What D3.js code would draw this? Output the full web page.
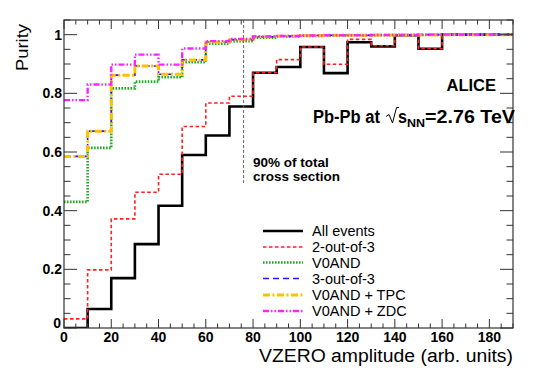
<!DOCTYPE html>
<html><head><meta charset="utf-8">
<script src="https://cdn.jsdelivr.net/npm/d3@7"></script>
<style>body{margin:0;background:#fff}svg{display:block;font-family:"Liberation Sans",Arial,sans-serif}</style>
</head><body>
<svg id="c" width="540" height="390"></svg>
<script>
const binEdges = d3.range(0, 200, 10); // 0..190
const allEvents = [0, 0.065, 0.17, 0.286, 0.417, 0.59, 0.656, 0.755, 0.87, 0.89, 0.958, 0.869, 0.974, 0.96, 0.998, 0.952, 1, 1, 1];
const twoOf3   = [0.031, 0.198, 0.372, 0.463, 0.524, 0.687, 0.767, 0.79, 0.87, 0.915, 0.958, 0.899, 0.984, 0.962, 0.998, 0.952, 1, 1, 1];
const v0and    = [0.43, 0.614, 0.817, 0.84, 0.855, 0.906, 0.969, 0.978, 0.99, 0.993, 0.996, 0.997, 0.998, 0.998, 0.999, 0.999, 1, 1, 1];
const threeOf3 = [0.585, 0.671, 0.862, 0.893, 0.865, 0.914, 0.975, 0.983, 0.993, 0.995, 0.997, 0.998, 0.998, 0.999, 0.999, 1, 1, 1, 1];
const v0andTPC = [0.585, 0.671, 0.862, 0.893, 0.865, 0.914, 0.975, 0.983, 0.993, 0.995, 0.997, 0.998, 0.998, 0.999, 0.999, 1, 1, 1, 1];
const v0andZDC = [0.777, 0.83, 0.898, 0.932, 0.898, 0.953, 0.978, 0.985, 0.994, 0.996, 0.997, 0.998, 0.998, 0.999, 0.999, 1, 1, 1, 1];
const seriesNames = ["All events", "2-out-of-3", "V0AND", "3-out-of-3", "V0AND + TPC", "V0AND + ZDC"];
const xTicks = [0, 20, 40, 60, 80, 100, 120, 140, 160, 180];
const yTicks = [0, 0.2, 0.4, 0.6, 0.8, 1];
const cutValue = 76;

const styles = [
  {color:"#000000", width:2.6, dash:null},
  {color:"#ff2020", width:1.6, dash:"3.5,2.5"},
  {color:"#22aa22", width:2.6, dash:"1.6,1.4"},
  {color:"#1a1aff", width:1.6, dash:"6,4"},
  {color:"#ffc000", width:3, dash:"7,2.5,2,2.5"},
  {color:"#ff22ff", width:2.4, dash:"6,2,1.5,2,1.5,2"}
];
const allSeries = [allEvents, twoOf3, v0and, threeOf3, v0andTPC, v0andZDC];

const svg = d3.select("#c");
const L = 64, R = 513, T = 20, B = 328;
const x = d3.scaleLinear().domain([0, 190]).range([L, R]);
const y = d3.scaleLinear().domain([0, 1.05]).range([B, T]);

svg.append("clipPath").attr("id","clip").append("rect").attr("x",L).attr("y",T-3).attr("width",R-L).attr("height",B-T+3);

const line = d3.line().x(d => x(d[0])).y(d => y(d[1])).curve(d3.curveStepAfter);
const gS = svg.append("g").attr("clip-path","url(#clip)");
allSeries.forEach((vals, i) => {
  const pts = vals.map((v, j) => [binEdges[j], v]);
  pts.push([190, vals[vals.length-1]]);
  const s = styles[i];
  gS.append("path").attr("d", line(pts)).attr("fill","none")
    .attr("stroke", s.color).attr("stroke-width", s.width)
    .attr("stroke-dasharray", s.dash);
});

// vertical cut line
svg.append("line").attr("x1", x(cutValue)).attr("x2", x(cutValue)).attr("y1", T).attr("y2", 183)
  .attr("stroke","#666").attr("stroke-width",1).attr("stroke-dasharray","3,2");

// frame
svg.append("rect").attr("x",L).attr("y",T).attr("width",R-L).attr("height",B-T)
  .attr("fill","none").attr("stroke","#333").attr("stroke-width",1.2);

// ticks
const gT = svg.append("g").attr("stroke","#333").attr("stroke-width",1);
d3.range(0, 191, 5).forEach(v => {
  const major = v % 20 === 0;
  const len = major ? 9 : 4.5;
  gT.append("line").attr("x1",x(v)).attr("x2",x(v)).attr("y1",B).attr("y2",B-len);
  gT.append("line").attr("x1",x(v)).attr("x2",x(v)).attr("y1",T).attr("y2",T+len);
});
d3.range(0, 1.051, 0.05).forEach(v => {
  const major = Math.abs(v*5 - Math.round(v*5)) < 1e-6;
  const len = major ? 13 : 6.5;
  gT.append("line").attr("x1",L).attr("x2",L+len).attr("y1",y(v)).attr("y2",y(v));
  gT.append("line").attr("x1",R).attr("x2",R-len).attr("y1",y(v)).attr("y2",y(v));
});

// tick labels
const fmtY = d => d === 0 ? "0" : (d === 1 ? "1" : d3.format(".1f")(d));
svg.append("g").selectAll("text").data(xTicks).join("text")
  .attr("x", d => x(d)).attr("y", 342).attr("text-anchor","middle")
  .attr("font-size",14).attr("font-weight","bold").text(d => d);
svg.append("g").selectAll("text").data(yTicks).join("text")
  .attr("x", d => d === 0 ? 61 : 62).attr("y", d => d === 0 ? y(d) : y(d)+5).attr("text-anchor","end")
  .attr("font-size",14).attr("font-weight","bold").text(fmtY);

// axis titles
svg.append("text").attr("x", 259).attr("y", 362)
  .attr("font-size",18).attr("textLength",254).attr("lengthAdjust","spacingAndGlyphs")
  .text("VZERO amplitude (arb. units)");
svg.append("text").attr("transform","translate(28,24) rotate(-90)").attr("text-anchor","end")
  .attr("font-size",16.5).attr("textLength",47).attr("lengthAdjust","spacingAndGlyphs").text("Purity");

// annotations
svg.append("text").attr("x",496).attr("y",91).attr("text-anchor","end")
  .attr("font-size",16.5).attr("font-weight","bold").text("ALICE");
const fb = (t, x0, y0, fs, len, w) => svg.append("text").attr("x",x0).attr("y",y0)
  .attr("font-size",fs).attr("font-weight", w || "bold")
  .attr("textLength",len).attr("lengthAdjust","spacingAndGlyphs").text(t);
fb("Pb-Pb at", 313, 123, 18, 67);
svg.append("path").attr("d","M386,116.5 L389,114.5 L392.5,123 L396.5,107.5 L399,107.5")
  .attr("fill","none").attr("stroke","#000").attr("stroke-width",1);
fb("s", 398, 123, 18, 9);
fb("NN", 407, 127, 11.5, 18);
fb("=2.76 TeV", 425, 123, 18, 90);

svg.append("text").attr("x",253).attr("y",167).attr("font-size",13.5).attr("font-weight","bold").text("90% of total");
svg.append("text").attr("x",253).attr("y",181).attr("font-size",13.5).attr("font-weight","bold").text("cross section");

// legend
const legY = [231, 247, 262.5, 278.5, 295, 311];
seriesNames.forEach((n, i) => {
  const s = styles[i];
  svg.append("line").attr("x1",263).attr("x2",303).attr("y1",legY[i]).attr("y2",legY[i])
    .attr("stroke", s.color).attr("stroke-width", s.width).attr("stroke-dasharray", s.dash);
  svg.append("text").attr("x",312).attr("y",legY[i]+5).attr("font-size",14.5).text(n);
});
</script>
</body></html>
